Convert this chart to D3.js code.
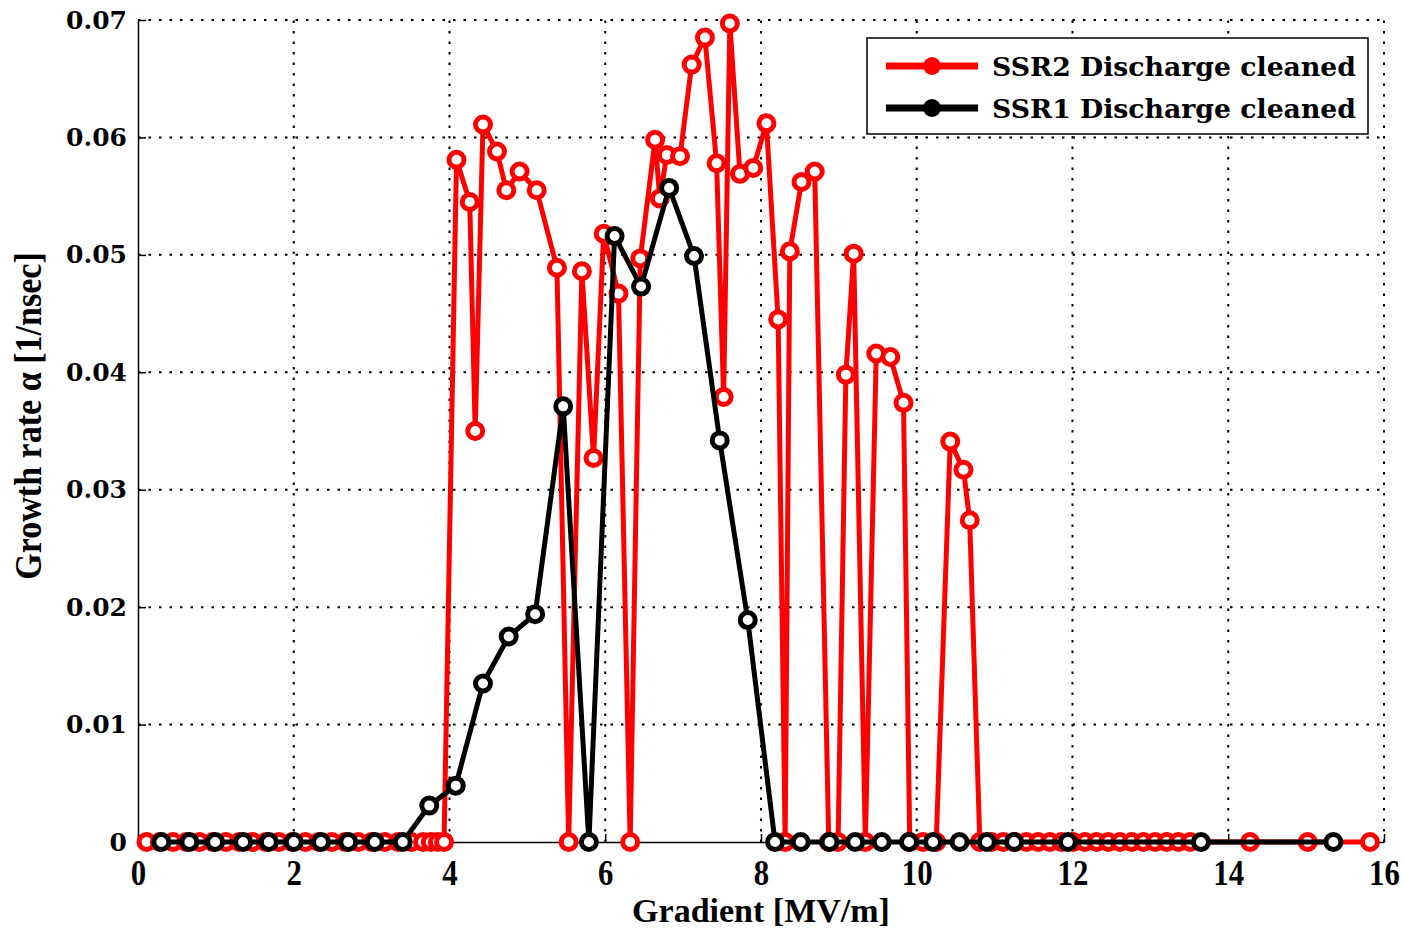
<!DOCTYPE html>
<html>
<head>
<meta charset="utf-8">
<script src="https://cdn.jsdelivr.net/npm/d3@7"></script>
<style>
  html, body { margin: 0; padding: 0; background: #fff; }
  svg { display: block; }
</style>
</head>
<body>
<svg id="chart" width="1404" height="928"></svg>
<script>
// ---- data ----
const xTicks = [0, 2, 4, 6, 8, 10, 12, 14, 16];
const yTicks = [0, 0.01, 0.02, 0.03, 0.04, 0.05, 0.06, 0.07];
const yTickLabels = ["0", "0.01", "0.02", "0.03", "0.04", "0.05", "0.06", "0.07"];

const ssr2Gradient = [
  0.11, 0.28, 0.45, 0.62, 0.79, 0.96, 1.13, 1.30, 1.47, 1.64, 1.81, 1.98, 2.15, 2.32, 2.49,
  2.66, 2.83, 3.00, 3.17, 3.34, 3.51, 3.66, 3.76, 3.85, 3.93,
  4.09, 4.26, 4.33, 4.43, 4.61, 4.73, 4.90, 5.12, 5.38, 5.53, 5.70, 5.85, 5.98, 6.17, 6.32,
  6.45, 6.64, 6.70, 6.79, 6.96, 7.11, 7.28, 7.43, 7.52, 7.60, 7.73, 7.90, 8.07, 8.22, 8.31,
  8.37, 8.52, 8.69, 8.87, 8.99, 9.09, 9.19, 9.34, 9.48, 9.66, 9.83, 9.91, 10.08, 10.25,
  10.43, 10.60, 10.68, 10.81,
  10.96, 11.11, 11.26, 11.41, 11.56, 11.71, 11.86, 12.01, 12.16, 12.31, 12.46, 12.61, 12.76,
  12.91, 13.06, 13.21, 13.36, 13.51, 14.28, 15.02, 15.82
];
const ssr2Rate = [
  0, 0, 0, 0, 0, 0, 0, 0, 0, 0, 0, 0, 0, 0, 0,
  0, 0, 0, 0, 0, 0, 0, 0, 0, 0,
  0.0581, 0.0545, 0.0350, 0.0611, 0.0588, 0.0555, 0.0571, 0.0555, 0.0489, 0, 0.0486, 0.0327, 0.0518, 0.0467, 0,
  0.0497, 0.0598, 0.0548, 0.0585, 0.0584, 0.0662, 0.0685, 0.0578, 0.0379, 0.0697, 0.0569, 0.0574, 0.0612, 0.0445, 0,
  0.0503, 0.0562, 0.0571, 0, 0, 0.0398, 0.0501, 0, 0.0416, 0.0413, 0.0374, 0, 0, 0,
  0.0341, 0.0317, 0.0274, 0,
  0, 0, 0, 0, 0, 0, 0, 0, 0, 0, 0, 0, 0,
  0, 0, 0, 0, 0, 0, 0, 0
];

const ssr1Gradient = [
  0.30, 0.66, 0.99, 1.35, 1.68, 2.00, 2.35, 2.70, 3.04, 3.40, 3.74, 4.08, 4.43, 4.76, 5.10,
  5.46, 5.79, 6.12, 6.46, 6.82, 7.14, 7.47, 7.83, 8.18, 8.51, 8.88, 9.21, 9.55, 9.90, 10.21,
  10.55, 10.90, 11.25, 11.94, 13.65, 15.35
];
const ssr1Rate = [
  0, 0, 0, 0, 0, 0, 0, 0, 0, 0, 0.0031, 0.0048, 0.0135, 0.0175, 0.0194,
  0.0371, 0, 0.0516, 0.0473, 0.0557, 0.0499, 0.0342, 0.0189, 0, 0, 0, 0, 0, 0, 0,
  0, 0, 0, 0, 0, 0
];

const seriesNames = ["SSR2 Discharge cleaned", "SSR1 Discharge cleaned"];
const seriesColors = ["#ff0000", "#000000"];

// ---- layout ----
const W = 1404, H = 928;
const margin = { left: 138, right: 20, top: 20, bottom: 86 };
const svg = d3.select("#chart");

const x = d3.scaleLinear().domain([0, 16]).range([margin.left, W - margin.right]);
const y = d3.scaleLinear().domain([0, 0.07]).range([H - margin.bottom, margin.top]);

const serifWide = "'DejaVu Serif', serif";
const serifNarrow = "'Liberation Serif', 'Times New Roman', serif";

// grid
const grid = svg.append("g").attr("stroke", "#000").attr("stroke-width", 2)
  .attr("stroke-dasharray", "2.5,8");
grid.selectAll("line.v").data(xTicks.filter(d => d > 0)).join("line")
  .attr("x1", d => x(d)).attr("x2", d => x(d))
  .attr("y1", y(0)).attr("y2", y(0.07));
grid.selectAll("line.h").data(yTicks.filter(d => d > 0)).join("line")
  .attr("x1", x(0)).attr("x2", x(16))
  .attr("y1", d => y(d)).attr("y2", d => y(d));

// axes
const xAxis = d3.axisBottom(x).tickValues(xTicks).tickSizeInner(-8).tickSizeOuter(0).tickPadding(14);
const gx = svg.append("g").attr("transform", `translate(0,${y(0)})`).call(xAxis);
gx.select(".domain").attr("stroke", "#000").attr("stroke-width", 1.5);
gx.selectAll(".tick line").attr("stroke", "#000").attr("stroke-width", 1.5);
gx.selectAll(".tick text")
  .attr("font-family", serifNarrow).attr("font-weight", "bold").attr("font-size", 35)
  .attr("fill", "#000").attr("y", 43).attr("dy", 0)
  .attr("transform", "scale(0.88,1)");

const yAxis = d3.axisLeft(y).tickValues(yTicks).tickFormat((d, i) => yTickLabels[i])
  .tickSizeInner(-8).tickSizeOuter(0).tickPadding(11);
const gy = svg.append("g").attr("transform", `translate(${x(0)},0)`).call(yAxis);
gy.select(".domain").attr("stroke", "#000").attr("stroke-width", 1.5);
gy.selectAll(".tick line").attr("stroke", "#000").attr("stroke-width", 1.5);
gy.selectAll(".tick text")
  .attr("font-family", serifWide).attr("font-weight", "bold").attr("font-size", 25)
  .attr("fill", "#000");

// axis titles
const cx = (x(0) + x(16)) / 2;
svg.append("text")
  .attr("x", cx).attr("y", 922)
  .attr("text-anchor", "middle")
  .attr("font-family", serifNarrow).attr("font-weight", "bold").attr("font-size", 34)
  .text("Gradient [MV/m]");

svg.append("text")
  .attr("transform", `translate(41,416) rotate(-90) scale(0.92,1)`)
  .attr("text-anchor", "middle")
  .attr("font-family", serifNarrow).attr("font-weight", "bold").attr("font-size", 37)
  .text("Growth rate α [1/nsec]");

// series
const series = [
  { name: seriesNames[0], color: seriesColors[0], xs: ssr2Gradient, ys: ssr2Rate },
  { name: seriesNames[1], color: seriesColors[1], xs: ssr1Gradient, ys: ssr1Rate }
];
const line = d3.line().x(d => x(d[0])).y(d => y(d[1]));

series.forEach(s => {
  const pts = s.xs.map((v, i) => [v, s.ys[i]]);
  const g = svg.append("g");
  g.append("path").datum(pts)
    .attr("d", line).attr("fill", "none")
    .attr("stroke", s.color).attr("stroke-width", 5)
    .attr("stroke-linejoin", "round");
  g.selectAll("circle").data(pts).join("circle")
    .attr("cx", d => x(d[0])).attr("cy", d => y(d[1]))
    .attr("r", 7.5).attr("fill", "#fff")
    .attr("stroke", s.color).attr("stroke-width", 5);
});

// legend
const lg = svg.append("g");
lg.append("rect").attr("x", 867).attr("y", 38).attr("width", 501).attr("height", 96)
  .attr("fill", "#fff").attr("stroke", "#000").attr("stroke-width", 1.5);
series.forEach((s, i) => {
  const ly = 66 + i * 42;
  lg.append("line").attr("x1", 886).attr("x2", 978).attr("y1", ly).attr("y2", ly)
    .attr("stroke", s.color).attr("stroke-width", 7);
  lg.append("circle").attr("cx", 932).attr("cy", ly).attr("r", 9).attr("fill", s.color);
  lg.append("text").attr("x", 992).attr("y", ly + 10)
    .attr("font-family", serifWide).attr("font-weight", "bold").attr("font-size", 26.7)
    .attr("fill", "#000")
    .text(s.name);
});
</script>
</body>
</html>
